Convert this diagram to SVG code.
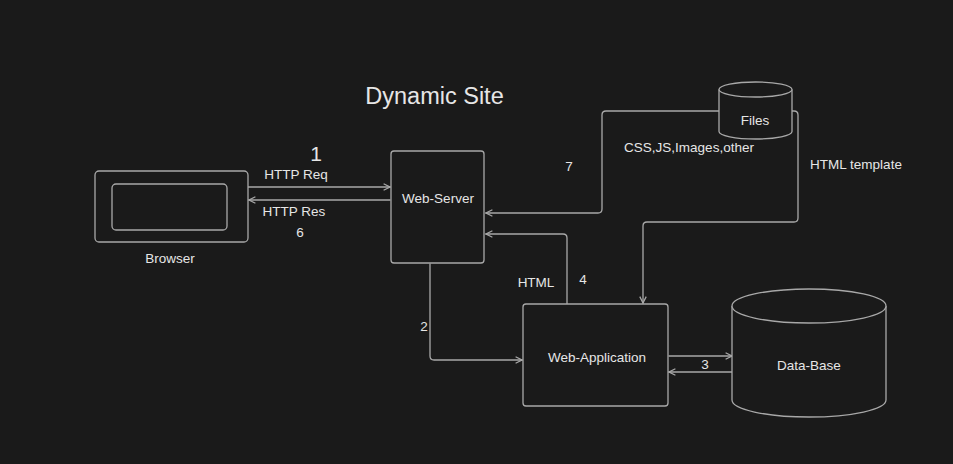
<svg xmlns="http://www.w3.org/2000/svg" width="953" height="464" viewBox="0 0 953 464">
<defs>
<style>
.s{fill:none;stroke:#a8a8a8;stroke-width:1.3;stroke-linejoin:round;stroke-linecap:round}
.n{fill:#1a1a1a;stroke:#a8a8a8;stroke-width:1.3}
.t{font-family:"Liberation Sans",Arial,sans-serif;font-size:13.5px;fill:#e6e6e6;text-anchor:middle}
</style>
<marker id="a" viewBox="0 0 10 10" refX="9" refY="5" markerWidth="8" markerHeight="8" markerUnits="userSpaceOnUse" orient="auto">
<path d="M1,1 L9,5 L1,9" fill="none" stroke="#a8a8a8" stroke-width="1.6"/>
</marker>
</defs>
<rect width="953" height="464" fill="#1a1a1a"/>
<text x="434.5" y="104" class="t" style="font-size:23.5px">Dynamic Site</text>
<g id="connectors">
<path class="s" d="M248,187 H390" marker-end="url(#a)"/>
<path class="s" d="M390,200 H249" marker-end="url(#a)"/>
<path class="s" d="M719,111 H606 Q602,111 602,115 V209 Q602,213 598,213 H486" marker-end="url(#a)"/>
<path class="s" d="M792,111 H794 Q798,111 798,115 V218 Q798,222 794,222 H647 Q643,222 643,226 V303" marker-end="url(#a)"/>
<path class="s" d="M567,304 V238 Q567,234 563,234 H486" marker-end="url(#a)"/>
<path class="s" d="M430,264 V356 Q430,360 434,360 H522" marker-end="url(#a)"/>
<path class="s" d="M669,356 H732" marker-end="url(#a)"/>
<path class="s" d="M732,372 H669" marker-end="url(#a)"/>
<text x="316" y="161" class="t" style="font-size:21px">1</text>
<text x="296" y="179" class="t">HTTP Req</text>
<text x="294" y="216" class="t">HTTP  Res</text>
<text x="300" y="237" class="t">6</text>
<text x="569" y="171" class="t">7</text>
<text x="689" y="152" class="t">CSS,JS,Images,other</text>
<text x="856" y="169" class="t">HTML template</text>
<text x="476" y="245" class="t">5</text>
<text x="536" y="287" class="t">HTML</text>
<text x="583" y="284" class="t">4</text>
<text x="424" y="331" class="t">2</text>
<text x="705" y="369" class="t">3</text>
</g>
<g id="browser">
<rect class="n" x="95" y="171" width="153" height="71" rx="4"/>
<rect class="n" x="112" y="184" width="115" height="46" rx="4"/>
<text x="170" y="263" class="t">Browser</text>
</g>
<g id="web-server">
<rect class="n" x="391" y="151" width="93" height="112" rx="3"/>
<text x="438" y="203" class="t">Web-Server</text>
</g>
<g id="files">
<path class="n" d="M719,89.5 V131.5 A36.5,7.5 0 0 0 792,131.5 V89.5"/>
<ellipse class="n" cx="755.5" cy="89.5" rx="36.5" ry="7.5"/>
<text x="755" y="125" class="t">Files</text>
</g>
<g id="web-application">
<rect class="n" x="523" y="304" width="145" height="102" rx="3"/>
<text x="597" y="362" class="t">Web-Application</text>
</g>
<g id="data-base">
<path class="n" d="M732,306 V400 A77,17 0 0 0 886,400 V306"/>
<ellipse class="n" cx="809" cy="306" rx="77" ry="17"/>
<text x="809" y="370" class="t">Data-Base</text>
</g>
</svg>
